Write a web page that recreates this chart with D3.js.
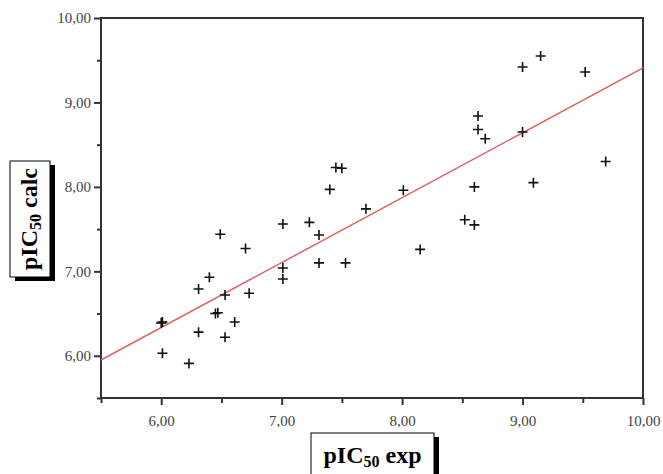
<!DOCTYPE html>
<html>
<head>
<meta charset="utf-8">
<script src="https://cdn.jsdelivr.net/npm/d3@7"></script>
<style>
  body { margin: 0; background: #fff; }
  svg { display: block; }
</style>
</head>
<body>
<svg id="chart"></svg>
<script>
const expValues = [
  6.00, 6.01, 6.01, 6.23, 6.31, 6.31, 6.40, 6.45, 6.47, 6.49,
  6.53, 6.53, 6.61, 6.70, 6.73, 7.01, 7.01, 7.01, 7.23, 7.31,
  7.31, 7.40, 7.45, 7.50, 7.53, 7.70, 8.01, 8.15, 8.52, 8.60,
  8.60, 8.63, 8.63, 8.69, 9.00, 9.00, 9.09, 9.15, 9.52, 9.69
];
const calcValues = [
  6.39, 6.40, 6.03, 5.91, 6.79, 6.28, 6.93, 6.50, 6.51, 7.44,
  6.72, 6.22, 6.40, 7.27, 6.74, 7.56, 7.04, 6.91, 7.58, 7.43,
  7.10, 7.97, 8.23, 8.22, 7.10, 7.74, 7.96, 7.26, 7.61, 7.55,
  8.00, 8.84, 8.68, 8.57, 8.65, 9.42, 8.05, 9.55, 9.36, 8.30
];
// regression line end points
const fitX = [5.5, 10];
const fitY = [5.95, 9.41];

const majorTicks = [6, 7, 8, 9, 10];
const minorTicks = [5.5, 6.5, 7.5, 8.5, 9.5];
const domainMin = 5.5, domainMax = 10;

const W = 663, H = 474;
const margin = { top: 18, right: 20, bottom: 76, left: 101 };
const width = W - margin.left - margin.right;
const height = H - margin.top - margin.bottom;

const root = d3.select('#chart').attr('width', W).attr('height', H);
const svg = root.append('g')
  .attr('transform', `translate(${margin.left},${margin.top})`);

const x = d3.scaleLinear().domain([domainMin, domainMax]).range([0, width]);
const y = d3.scaleLinear().domain([domainMin, domainMax]).range([height, 0]);

const fmt = d => d3.format('.2f')(d).replace('.', ',');
const axisColor = '#333';
const serif = '"Liberation Serif", "Times New Roman", serif';

// frame
svg.append('rect')
  .attr('width', width)
  .attr('height', height)
  .attr('fill', 'none')
  .attr('stroke', axisColor)
  .attr('stroke-width', 2);

function styleAxis(g) {
  g.select('.domain').remove();
  g.selectAll('.tick line').attr('stroke', axisColor).attr('stroke-width', 2);
  g.selectAll('text')
    .attr('fill', '#444')
    .style('font-family', serif)
    .style('font-size', '15px');
}

svg.append('g')
  .call(d3.axisLeft(y).tickValues(majorTicks).tickSize(7).tickPadding(3).tickFormat(fmt))
  .call(styleAxis);
svg.append('g')
  .call(d3.axisLeft(y).tickValues(minorTicks).tickSize(4).tickFormat(''))
  .call(styleAxis);

svg.append('g')
  .attr('transform', `translate(0,${height})`)
  .call(d3.axisBottom(x).tickValues(majorTicks).tickSize(7).tickPadding(10).tickFormat(fmt))
  .call(styleAxis);
svg.append('g')
  .attr('transform', `translate(0,${height})`)
  .call(d3.axisBottom(x).tickValues(minorTicks).tickSize(5).tickFormat(''))
  .call(styleAxis);

// fit line
svg.append('line')
  .attr('x1', x(fitX[0])).attr('y1', y(fitY[0]))
  .attr('x2', x(fitX[1])).attr('y2', y(fitY[1]))
  .attr('stroke', '#e0625f')
  .attr('stroke-width', 1.5);

// plus markers
const pts = expValues.map((v, i) => ({ exp: v, calc: calcValues[i] }));
const arm = 5;
svg.append('g')
  .selectAll('path')
  .data(pts)
  .join('path')
  .attr('d', d => {
    const px = x(d.exp), py = y(d.calc);
    return `M${px - arm},${py}H${px + arm}M${px},${py - arm}V${py + arm}`;
  })
  .attr('stroke', '#111')
  .attr('stroke-width', 1.6)
  .attr('fill', 'none');

// boxed axis titles with drop shadow (box in screen coords, text may rotate)
function boxedLabel(bx, by, bw, bh, rotate, main, rest) {
  const g = root.append('g');
  g.append('rect')
    .attr('x', bx + 5).attr('y', by + 4)
    .attr('width', bw).attr('height', bh)
    .attr('fill', '#000');
  g.append('rect')
    .attr('x', bx).attr('y', by)
    .attr('width', bw).attr('height', bh)
    .attr('fill', '#fff')
    .attr('stroke', '#000')
    .attr('stroke-width', 1);
  const cx = bx + bw / 2, cy = by + bh / 2;
  const t = g.append('text')
    .attr('transform', `translate(${cx},${cy}) rotate(${rotate})`)
    .attr('x', 0).attr('y', 7)
    .attr('text-anchor', 'middle')
    .style('font-family', serif)
    .style('font-weight', 'bold')
    .style('font-size', '24px')
    .attr('fill', '#000');
  t.append('tspan').text(main);
  t.append('tspan').text('50').style('font-size', '16px').attr('dy', 4);
  t.append('tspan').text(rest).attr('dy', -4);
}

boxedLabel(10, 161, 40, 116, -90, 'pIC', ' calc');
boxedLabel(311, 433, 123, 46, 0, 'pIC', ' exp');
</script>
</body>
</html>
